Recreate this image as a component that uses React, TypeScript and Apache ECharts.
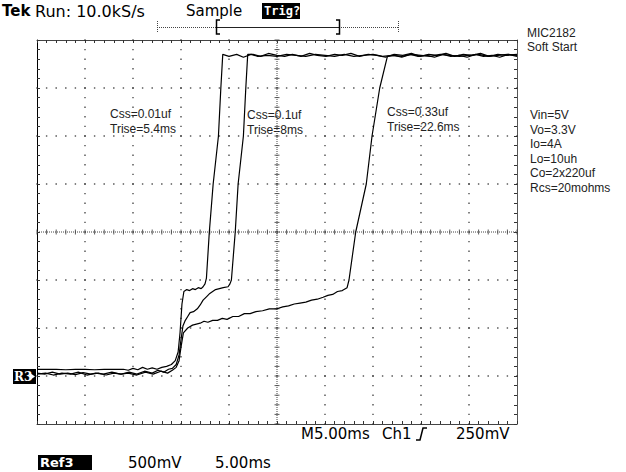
import React, { useEffect, useRef } from "react";
import * as echarts from "echarts";

// Time axis: 5 ms / division, 10 divisions. Voltage axis: 0.5 V / division (Ref3 500mV), 8 divisions.
const xMin = 0;
const xMax = 50;
const xStep = 5;
const yMin = -0.5;
const yMax = 3.5;
const yStep = 0.5;
const minorPerDiv = 5;

// Css = 0.01uF, Trise = 5.4ms  [time ms, volts]
const css001: [number, number][] = [
  [0, 0.07], [1, 0.07], [2, 0.07], [3, 0.065], [4, 0.07], [5, 0.07], [6, 0.065], [7, 0.07], [8, 0.07], [9, 0.07],
  [9.5, 0.06], [10, 0.08], [10.5, 0.065], [11, 0.09], [11.5, 0.07], [12, 0.085], [12.5, 0.07], [13, 0.09], [13.5, 0.1],
  [14, 0.12], [14.4, 0.16], [14.7, 0.25], [14.9, 0.45], [15.1, 0.75], [15.3, 0.88], [15.6, 0.9], [15.9, 0.89],
  [16.2, 0.91], [16.5, 0.9], [16.8, 0.92], [17.1, 0.91], [17.3, 0.93], [17.5, 0.96], [17.65, 1.02], [17.95, 1.5],
  [18.35, 2.0], [18.9, 2.5], [19.15, 3.0], [19.35, 3.35], [20, 3.33], [20.8, 3.35], [21.5, 3.32], [22.3, 3.35],
  [23, 3.33], [24, 3.34], [25, 3.33], [26, 3.35], [27, 3.34], [28, 3.33], [29, 3.35], [30, 3.34], [31, 3.33],
  [32, 3.35], [33, 3.33], [34, 3.34], [35, 3.35], [36, 3.33], [37, 3.34], [38, 3.33], [39, 3.35], [40, 3.34],
  [41, 3.33], [42, 3.35], [43, 3.34], [44, 3.33], [45, 3.34], [46, 3.35], [47, 3.33], [48, 3.34], [49, 3.35], [50, 3.34],
];

// Css = 0.1uF, Trise = 8ms
const css01: [number, number][] = [
  [0, 0.03], [0.8, 0.02], [1.6, 0.04], [2.4, 0.02], [3.2, 0.03], [4, 0.015], [4.8, 0.035], [5.6, 0.02], [6.4, 0.03],
  [7.2, 0.01], [8, 0.03], [8.8, 0.02], [9.6, 0.04], [10.4, 0.02], [11.2, 0.05], [12, 0.03], [12.6, 0.06], [13.2, 0.04],
  [13.7, 0.07], [14.1, 0.08], [14.5, 0.12], [14.8, 0.22], [15.0, 0.38], [15.2, 0.52], [15.45, 0.58], [15.7, 0.62],
  [15.95, 0.66], [16.3, 0.67], [16.7, 0.7], [17.0, 0.74], [17.3, 0.79], [17.7, 0.83], [18.0, 0.86], [18.3, 0.88],
  [18.6, 0.9], [19.0, 0.91], [19.4, 0.92], [19.9, 0.93], [20.1, 0.96], [20.25, 1.0], [20.65, 1.5], [20.95, 2.0],
  [21.5, 2.5], [21.75, 3.0], [21.95, 3.35], [22.5, 3.35], [23.3, 3.33], [24.1, 3.36], [25, 3.34], [25.8, 3.33],
  [26.6, 3.35], [27.5, 3.33], [28.4, 3.36], [29.2, 3.34], [30.1, 3.33], [31, 3.35], [31.8, 3.34], [32.7, 3.36],
  [33.6, 3.33], [34.5, 3.35], [35.4, 3.34], [36.3, 3.32], [37.2, 3.35], [38.1, 3.34], [39, 3.36], [39.9, 3.33],
  [40.8, 3.35], [41.7, 3.34], [42.6, 3.36], [43.5, 3.33], [44.4, 3.35], [45.3, 3.34], [46.2, 3.36], [47.1, 3.33],
  [48, 3.35], [48.9, 3.34], [50, 3.35],
];

// Css = 0.33uF, Trise = 22.6ms
const css033: [number, number][] = [
  [0, 0.02], [0.9, 0.03], [1.7, 0.01], [2.6, 0.03], [3.5, 0.02], [4.3, 0.04], [5.2, 0.01], [6.1, 0.03], [6.9, 0.02],
  [7.8, 0.04], [8.7, 0.02], [9.5, 0.03], [10.4, 0.01], [11.3, 0.04], [12.1, 0.02], [12.9, 0.05], [13.6, 0.03],
  [14.1, 0.06], [14.5, 0.09], [14.8, 0.16], [15.0, 0.3], [15.25, 0.45], [15.7, 0.5], [16.2, 0.53], [16.6, 0.54],
  [17.0, 0.55], [17.4, 0.57], [17.8, 0.56], [18.3, 0.58], [18.8, 0.58], [19.3, 0.6], [19.8, 0.59], [20.4, 0.62],
  [21.0, 0.62], [21.6, 0.65], [22.2, 0.65], [22.8, 0.67], [23.5, 0.68], [24.2, 0.7], [25.0, 0.7], [25.6, 0.72],
  [26.2, 0.73], [26.8, 0.75], [27.4, 0.76], [28.0, 0.77], [28.6, 0.79], [29.2, 0.8], [29.8, 0.82], [30.3, 0.84],
  [30.8, 0.85], [31.3, 0.88], [31.8, 0.89], [32.3, 0.92], [32.5, 1.0], [33.2, 1.5], [34.3, 2.0], [34.9, 2.5],
  [35.7, 3.0], [36.5, 3.33], [37.2, 3.34], [38, 3.32], [38.9, 3.35], [39.7, 3.33], [40.6, 3.34], [41.4, 3.32],
  [42.3, 3.35], [43.1, 3.33], [44, 3.34], [44.8, 3.32], [45.7, 3.35], [46.5, 3.33], [47.4, 3.34], [48.2, 3.32],
  [49.1, 3.35], [50, 3.33],
];

const traceNotes = [
  { css: "Css=0.01uf", rise: "Trise=5.4ms" },
  { css: "Css=0.1uf", rise: "Trise=8ms" },
  { css: "Css=0.33uf", rise: "Trise=22.6ms" },
];
const conditions = ["Vin=5V", "Vo=3.3V", "Io=4A", "Lo=10uh", "Co=2x220uf", "Rcs=20mohms"];
const headerTexts = ["Tek", "Run: 10.0kS/s", "Sample", "Trig?"];
const footerTexts = ["M5.00ms", "Ch1", "250mV", "Ref3", "500mV", "5.00ms"];
const titleTexts = ["MIC2182", "Soft Start"];

const SCOPE_FONT = '"DejaVu Sans", sans-serif';
const NOTE_FONT = '"Liberation Sans", Arial, sans-serif';

// graticule built from the axis divisions (5 minor steps per division)
const xDivs = Math.round((xMax - xMin) / xStep);
const yDivs = Math.round((yMax - yMin) / yStep);
const xCenter = xMin + (xDivs / 2) * xStep;
const yCenter = yMin + (yDivs / 2) * yStep;
const gridDots: [number, number][] = [];
const centerTicksH: [number, number][] = [];
const centerTicksV: [number, number][] = [];
for (let j = 1; j < yDivs; j++) {
  const v = yMin + j * yStep;
  for (let m = 0; m <= xDivs * minorPerDiv; m++) {
    const t = xMin + (m * xStep) / minorPerDiv;
    if (j === yDivs / 2) centerTicksH.push([t, v]);
    else gridDots.push([t, v]);
  }
}
for (let i = 1; i < xDivs; i++) {
  const t = xMin + i * xStep;
  for (let m = 0; m <= yDivs * minorPerDiv; m++) {
    const v = Math.round((yMin + (m * yStep) / minorPerDiv) * 1000) / 1000;
    if (i === xDivs / 2) centerTicksV.push([t, v]);
    else gridDots.push([t, v]);
  }
}

function frameAxis(kind: "x" | "y", position: string, color: string) {
  return {
    type: "value",
    min: kind === "x" ? xMin : yMin,
    max: kind === "x" ? xMax : yMax,
    interval: kind === "x" ? xStep : yStep,
    position,
    axisLine: { show: true, onZero: false, lineStyle: { color, width: 1 } },
    axisTick: { show: true, inside: true, length: 3, lineStyle: { color: "#333" } },
    minorTick: { show: true, splitNumber: minorPerDiv, length: 3, lineStyle: { color: "#333" } },
    axisLabel: { show: false },
    splitLine: { show: false },
  };
}

export default function App() {
  const ref = useRef<HTMLDivElement>(null);
  useEffect(() => {
    if (!ref.current) return;
    const chart = echarts.init(ref.current, null, { renderer: "svg" });

    const txt = (text: string, x: number, y: number, font: string, extra: any = {}) => ({
      type: "text",
      x,
      y,
      silent: true,
      style: { text, font, fill: "#000", verticalAlign: "middle", ...extra },
    });

    const graphic: any[] = [
      // header
      txt(headerTexts[0], 2, 11, `bold 15px ${SCOPE_FONT}`),
      txt(headerTexts[1], 35, 11, `16px ${SCOPE_FONT}`),
      txt(headerTexts[2], 186, 11, `15px ${SCOPE_FONT}`),
      { type: "rect", shape: { x: 262, y: 3, width: 38, height: 16 }, style: { fill: "#000" }, silent: true },
      txt(headerTexts[3], 264, 11, `bold 12px "DejaVu Sans Mono", monospace`, { fill: "#fff" }),
      // trigger position bracket
      { type: "line", shape: { x1: 157, y1: 27.5, x2: 217, y2: 27.5 }, style: { stroke: "#444", lineWidth: 1, lineDash: [1, 1] }, silent: true },
      { type: "line", shape: { x1: 217, y1: 27.5, x2: 339, y2: 27.5 }, style: { stroke: "#222", lineWidth: 1 }, silent: true },
      { type: "line", shape: { x1: 339, y1: 27.5, x2: 398, y2: 27.5 }, style: { stroke: "#444", lineWidth: 1, lineDash: [1, 1] }, silent: true },
      { type: "line", shape: { x1: 157.5, y1: 21, x2: 157.5, y2: 33 }, style: { stroke: "#444", lineWidth: 1, lineDash: [1, 1] }, silent: true },
      { type: "line", shape: { x1: 398.5, y1: 21, x2: 398.5, y2: 33 }, style: { stroke: "#444", lineWidth: 1, lineDash: [1, 1] }, silent: true },
      { type: "polyline", shape: { points: [[220, 20], [216.5, 20], [216.5, 34], [220, 34]] }, style: { stroke: "#000", lineWidth: 1.5, fill: "none" }, silent: true },
      { type: "polyline", shape: { points: [[336, 20], [339.5, 20], [339.5, 34], [336, 34]] }, style: { stroke: "#000", lineWidth: 1.5, fill: "none" }, silent: true },
      // title
      txt(titleTexts[0], 527, 33, `12px ${NOTE_FONT}`, { fill: "#222" }),
      txt(titleTexts[1], 527, 47, `12px ${NOTE_FONT}`, { fill: "#222" }),
      // trace notes
      txt(traceNotes[0].css, 110, 114, `12px ${NOTE_FONT}`, { fill: "#222" }),
      txt(traceNotes[0].rise, 110, 129, `12px ${NOTE_FONT}`, { fill: "#222" }),
      txt(traceNotes[1].css, 247, 115, `12px ${NOTE_FONT}`, { fill: "#222" }),
      txt(traceNotes[1].rise, 247, 130, `12px ${NOTE_FONT}`, { fill: "#222" }),
      txt(traceNotes[2].css, 387, 112, `12px ${NOTE_FONT}`, { fill: "#222" }),
      txt(traceNotes[2].rise, 387, 127, `12px ${NOTE_FONT}`, { fill: "#222" }),
      // footer
      txt(footerTexts[0], 301, 434, `15px ${SCOPE_FONT}`),
      txt(footerTexts[1], 382, 434, `15px ${SCOPE_FONT}`),
      { type: "polyline", shape: { points: [[416, 440], [420, 440], [423, 428], [427, 428]] }, style: { stroke: "#000", lineWidth: 1.5, fill: "none" }, silent: true },
      txt(footerTexts[2], 456, 434, `15px ${SCOPE_FONT}`),
      { type: "rect", shape: { x: 38, y: 455, width: 54, height: 15 }, style: { fill: "#000" }, silent: true },
      txt(footerTexts[3], 40, 462.5, `bold 13px ${SCOPE_FONT}`, { fill: "#fff" }),
      txt(footerTexts[4], 128, 462.5, `15px ${SCOPE_FONT}`),
      txt(footerTexts[5], 215, 462.5, `15px ${SCOPE_FONT}`),
      // reference marker
      { type: "rect", shape: { x: 13, y: 369, width: 23, height: 15 }, style: { fill: "#000" }, silent: true },
      txt("R3", 14, 376.5, `bold 12px "DejaVu Serif", serif`, { fill: "#fff" }),
      { type: "polygon", shape: { points: [[30, 373], [35, 376.5], [30, 380]] }, style: { fill: "#fff" }, silent: true },
    ];
    conditions.forEach((c, i) => {
      graphic.push(txt(c, 530, 115 + i * 14.5, `12px ${NOTE_FONT}`, { fill: "#222" }));
    });

    const lineSeries = (name: string, data: [number, number][]) => ({
      name,
      type: "line",
      data,
      symbol: "none",
      showSymbol: false,
      silent: true,
      lineStyle: { color: "#000", width: 1.2 },
      z: 5,
    });
    const dotSeries = (data: [number, number][], size: number | number[], color: string) => ({
      type: "scatter",
      data,
      symbol: "rect",
      symbolSize: size,
      silent: true,
      itemStyle: { color },
      z: 1,
    });

    chart.setOption({
      animation: false,
      backgroundColor: "#fff",
      grid: { left: 37, top: 40, width: 480, height: 384 },
      xAxis: [frameAxis("x", "bottom", "#444"), frameAxis("x", "top", "#444")],
      yAxis: [frameAxis("y", "left", "#000"), frameAxis("y", "right", "#555")],
      series: [
        dotSeries(gridDots, 1.4, "#222"),
        dotSeries(centerTicksH, [1, 5], "#333"),
        dotSeries(centerTicksV, [5, 1], "#333"),
        {
          type: "line",
          data: [[xMin, yCenter], [xMax, yCenter]],
          symbol: "none",
          silent: true,
          lineStyle: { color: "#444", width: 1, type: [1, 1] },
          z: 1,
        },
        {
          type: "line",
          data: [[xCenter, yMin], [xCenter, yMax]],
          symbol: "none",
          silent: true,
          lineStyle: { color: "#444", width: 1, type: [1, 1] },
          z: 1,
        },
        lineSeries(traceNotes[0].css, css001),
        lineSeries(traceNotes[1].css, css01),
        lineSeries(traceNotes[2].css, css033),
      ],
      graphic,
    });
    return () => chart.dispose();
  }, []);
  return (
    <div
      ref={ref}
      style={{ position: "absolute", left: 0, top: 0, width: 626, height: 472, background: "#fff" }}
    />
  );
}
